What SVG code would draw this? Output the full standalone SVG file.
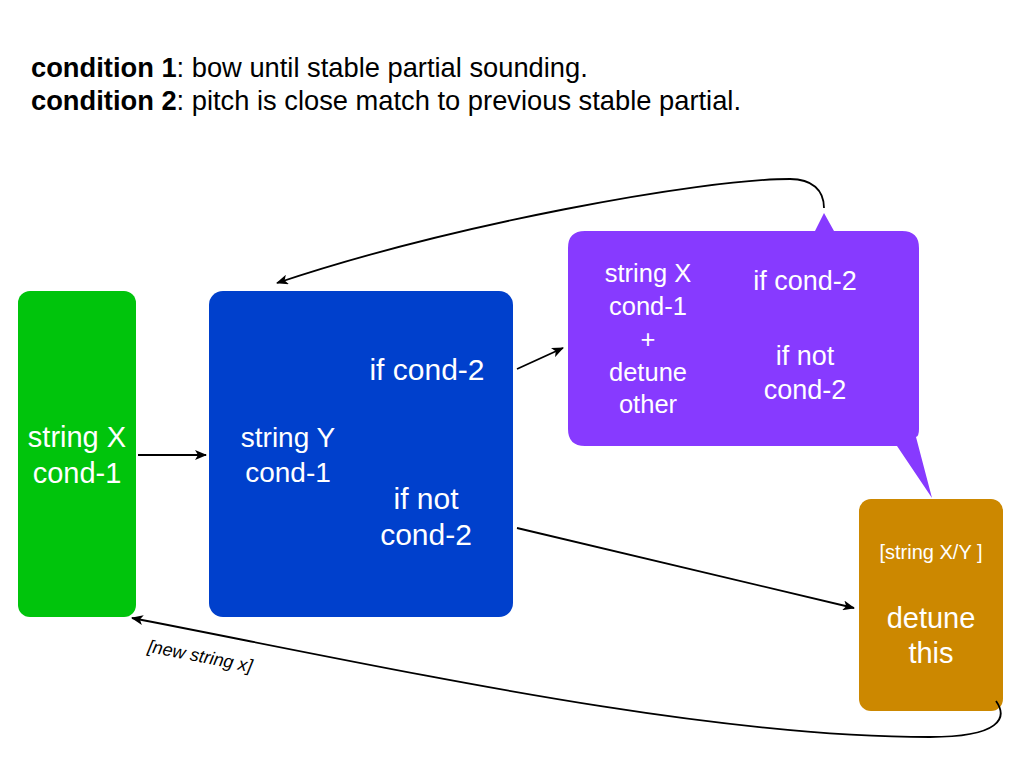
<svg xmlns="http://www.w3.org/2000/svg" width="1024" height="768" viewBox="0 0 1024 768">
<defs>
<style>
.t{font-family:"Liberation Sans",Arial,sans-serif;fill:#fff;text-anchor:middle}
.h{font-family:"Liberation Sans",Arial,sans-serif;fill:#000;font-size:27.3px}
.c{fill:none;stroke:#000;stroke-width:1.8}
</style>
<marker id="ah" viewBox="0 0 12 10" refX="11" refY="5" markerWidth="12" markerHeight="10" markerUnits="userSpaceOnUse" orient="auto">
<path d="M0,0 L12,5 L0,10 L3,5 z" fill="#000"/>
</marker>
</defs>
<rect width="1024" height="768" fill="#fff"/>
<g id="header">
<text class="h" x="31" y="77"><tspan font-weight="bold">condition 1</tspan>: bow until stable partial sounding.</text>
<text class="h" x="31" y="110"><tspan font-weight="bold">condition 2</tspan>: pitch is close match to previous stable partial.</text>
</g>
<g id="node-stringX">
<rect x="18" y="291" width="118" height="326" rx="12" fill="#00C40C"/>
<text class="t" x="77" y="447" font-size="29">string X</text>
<text class="t" x="77" y="483" font-size="29">cond-1</text>
</g>
<g id="node-stringY">
<rect x="209" y="291" width="304" height="326" rx="14" fill="#0040CC"/>
<text class="t" x="288" y="447" font-size="28">string Y</text>
<text class="t" x="288" y="482" font-size="28">cond-1</text>
<text class="t" x="427" y="380" font-size="30">if cond-2</text>
<text class="t" x="426" y="509" font-size="30">if not</text>
<text class="t" x="426" y="545" font-size="30">cond-2</text>
</g>
<g id="node-detuneOther">
<path d="M585,231 L815,231 L824,213 L834,231 L902,231 Q919,231 919,248 L919,429 Q919,436 916,437 L932,498 L897,446 L585,446 Q568,446 568,429 L568,248 Q568,231 585,231 z" fill="#873AFF"/>
<text class="t" x="648" y="282" font-size="25.5">string X</text>
<text class="t" x="648" y="315" font-size="25.5">cond-1</text>
<text class="t" x="648" y="348" font-size="25.5">+</text>
<text class="t" x="648" y="381" font-size="25.5">detune</text>
<text class="t" x="648" y="413" font-size="25.5">other</text>
<text class="t" x="805" y="290" font-size="27">if cond-2</text>
<text class="t" x="805" y="365" font-size="27">if not</text>
<text class="t" x="805" y="399" font-size="27">cond-2</text>
</g>
<g id="node-detuneThis">
<rect x="859" y="499" width="144" height="212" rx="12" fill="#CC8800"/>
<text class="t" x="931" y="559" font-size="20">[string X/Y ]</text>
<text class="t" x="931" y="628" font-size="29">detune</text>
<text class="t" x="931" y="663" font-size="29">this</text>
</g>
<g id="connectors">
<line class="c" x1="138" y1="455" x2="206" y2="455" marker-end="url(#ah)"/>
<line class="c" x1="517" y1="369" x2="563" y2="348" marker-end="url(#ah)"/>
<line class="c" x1="517" y1="528" x2="854" y2="608" marker-end="url(#ah)"/>
<path class="c" d="M824,208 C824,190 812,179 790,179 C700,179 450,225 277,283" marker-end="url(#ah)"/>
<path class="c" d="M996,701 C1008,718 1000,737 930,737 C700,737 400,670 132,618" marker-end="url(#ah)"/>
<text x="199" y="662" font-family="Liberation Sans, Arial, sans-serif" font-size="18" font-style="italic" fill="#000" text-anchor="middle" transform="rotate(11 199 662)">[new string x]</text>
</g>
</svg>
